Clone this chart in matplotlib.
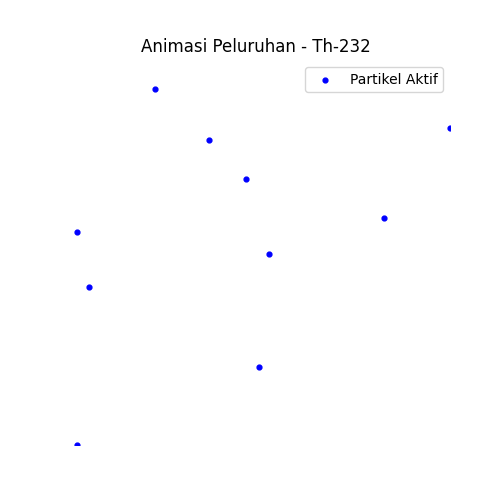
import matplotlib
matplotlib.use("Agg")
import matplotlib.pyplot as plt

title = "Animasi Peluruhan - Th-232"
label = "Partikel Aktif"
x_vals = [0.2387, 0.3780, 0.4735, 0.0374, 0.8297, 0.5329, 0.0684, 0.5071, 0.0374, 0.9990]
y_vals = [0.9247, 0.7920, 0.6910, 0.5530, 0.5896, 0.4961, 0.4104, 0.2026, 0.0000, 0.8234]

fig, ax = plt.subplots(figsize=(5, 5), dpi=100)
ax.scatter(x_vals, y_vals, s=12, color="blue", label=label)
ax.set_xlim(0, 1)
ax.set_ylim(0, 1)
ax.set_title(title)
ax.legend(loc="upper right")
ax.axis("off")
fig.savefig("out.png", dpi=100)
